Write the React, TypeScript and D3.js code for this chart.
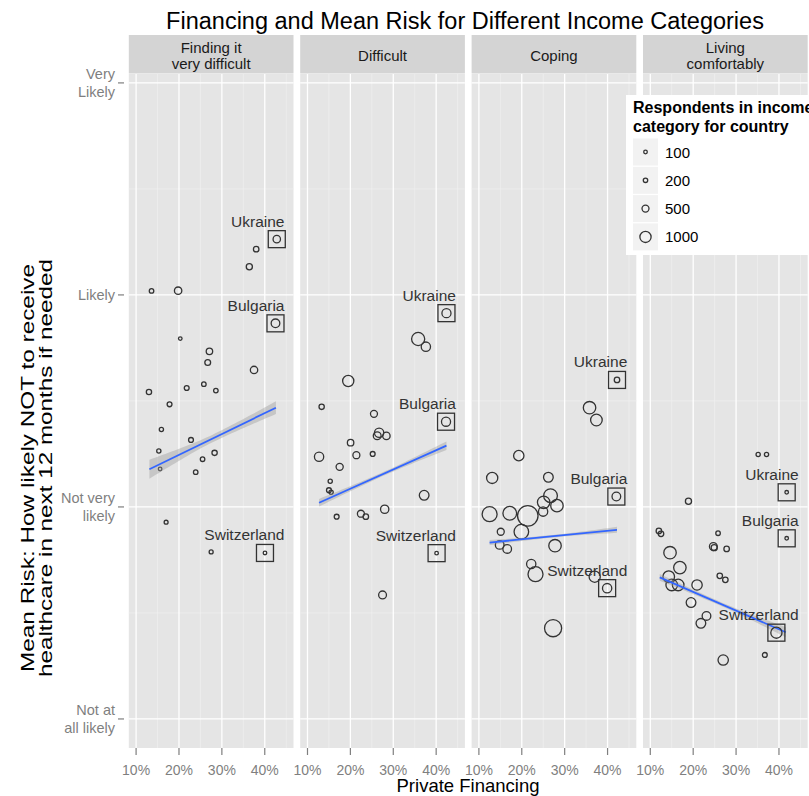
import React from 'react';
import * as d3 from 'd3';

// facet titles, axis ticks and legend breaks
const panelTitles = ['Finding it\nvery difficult', 'Difficult', 'Coping', 'Living\ncomfortably'];
const riskTicks = [1, 2, 3, 4];
const riskLabels = ['Not at\nall likely', 'Not very\nlikely', 'Likely', 'Very\nLikely'];
const riskMinor = [1.5, 2.5, 3.5];
const financeTicks = [10, 20, 30, 40];
const financeMinor = [15, 25, 35, 45];
const legendSizes = [100, 200, 500, 1000];

// [private financing %, mean risk (1 = not at all likely .. 4 = very likely), respondents]
type Pt = [number, number, number];

const findingVeryDifficult: Pt[] = [
  [38.0, 3.216, 325], [36.4, 3.133, 400], [13.6, 3.019, 210], [19.8, 3.02, 550],
  [20.3, 2.794, 100], [27.1, 2.734, 440], [26.7, 2.681, 360], [37.5, 2.646, 550],
  [13.0, 2.542, 300], [21.8, 2.561, 250], [25.8, 2.579, 210], [28.6, 2.549, 210],
  [17.8, 2.484, 250], [15.9, 2.365, 175], [22.8, 2.316, 250], [15.3, 2.264, 175],
  [28.3, 2.255, 300], [25.5, 2.225, 210], [15.6, 2.179, 100], [23.9, 2.164, 210],
  [17.0, 1.928, 140], [27.5, 1.788, 150],
];

const difficult: Pt[] = [
  [35.8, 2.792, 1225], [37.6, 2.756, 775], [19.5, 2.594, 1000], [13.3, 2.472, 300],
  [25.5, 2.439, 500], [26.7, 2.35, 775], [26.25, 2.336, 600], [28.4, 2.335, 550],
  [20.05, 2.303, 440], [12.7, 2.237, 775], [21.4, 2.244, 500], [25.2, 2.25, 250],
  [17.5, 2.189, 520], [15.3, 2.121, 175], [15.0, 2.079, 250], [15.5, 2.069, 175],
  [37.2, 2.055, 820], [28.0, 1.989, 660], [16.8, 1.954, 250], [22.45, 1.968, 500],
  [23.6, 1.954, 325], [27.5, 1.585, 600],
];

const coping: Pt[] = [
  [35.8, 2.468, 1150], [37.4, 2.41, 1050], [19.3, 2.242, 900], [13.1, 2.137, 1000],
  [26.2, 2.14, 820], [26.7, 2.053, 1300], [25.1, 2.022, 1150], [28.2, 2.006, 1150],
  [12.5, 1.966, 1450], [17.2, 1.97, 1300], [21.4, 1.958, 2100], [24.97, 1.978, 775],
  [19.9, 1.883, 1400], [15.1, 1.883, 500], [14.85, 1.821, 700], [16.6, 1.802, 700],
  [27.75, 1.817, 1150], [22.2, 1.731, 775], [23.2, 1.683, 1450], [37.0, 1.671, 1000],
  [27.3, 1.428, 1700],
];

const livingComfortably: Pt[] = [
  [35.15, 2.247, 175], [37.1, 2.247, 175], [18.9, 2.027, 400], [12.0, 1.887, 325],
  [12.5, 1.873, 325], [25.8, 1.876, 210], [24.7, 1.813, 600], [24.9, 1.808, 400],
  [27.8, 1.802, 325], [14.6, 1.784, 1150], [16.9, 1.714, 1150], [26.2, 1.675, 325],
  [27.5, 1.656, 325], [14.3, 1.671, 1050], [15.0, 1.632, 1050], [16.5, 1.632, 1050],
  [20.9, 1.632, 900], [19.5, 1.549, 820], [23.1, 1.486, 700], [21.8, 1.451, 820],
  [36.7, 1.302, 250], [27.0, 1.278, 900],
];

// highlighted countries, one row per panel: Ukraine, Bulgaria, Switzerland
const countryNames = ['Ukraine', 'Bulgaria', 'Switzerland'];
const countryPoints: Pt[][] = [
  [[42.8, 3.263, 550], [42.5, 2.866, 700], [40.05, 1.783, 100]],
  [[42.4, 2.914, 750], [42.3, 2.402, 750], [40.1, 1.782, 100]],
  [[42.2, 2.599, 325], [42.05, 2.049, 700], [39.9, 1.617, 775]],
  [[41.8, 2.069, 100], [41.8, 1.852, 100], [39.4, 1.407, 1000]],
];

// linear fit per panel: x0, y0, x1, y1 ; band half widths at left, middle, right
const fitLines = [
  [13.1, 2.178, 42.6, 2.468],
  [12.7, 2.02, 42.4, 2.289],
  [12.5, 1.832, 42.2, 1.892],
  [12.2, 1.668, 41.6, 1.409],
];
const fitBands = [
  [0.045, 0.018, 0.03],
  [0.018, 0.009, 0.02],
  [0.012, 0.006, 0.014],
  [0.016, 0.009, 0.024],
];

const panelData = [findingVeryDifficult, difficult, coping, livingComfortably];

const W = 809;
const H = 796;
const plotLeft = 128.8;
const panelW = 164.7;
const panelGap = 6.7;
const stripTop = 35;
const panelTop = 74;
const panelBottom = 748;
const font = '"Liberation Sans", Arial, Helvetica, sans-serif';

const App: React.FC = () => {
  const y = d3.scaleLinear().domain([0.863, 4.042]).range([panelBottom, panelTop]);
  const r = d3.scaleLinear().domain([100, 1000]).range([1.8, 5.6]);
  const panelX = (i: number) => {
    const left = plotLeft + i * (panelW + panelGap);
    return d3.scaleLinear().domain([8.3, 46.7]).range([left, left + panelW]);
  };
  const labelEnd = 44.6;

  return (
    <svg width={W} height={H} style={{ position: 'absolute', left: 0, top: 0, fontFamily: font }}>
      <rect width={W} height={H} fill="#fff" />
      <text x={465} y={29} textAnchor="middle" fontSize={23.5} fill="#000">
        Financing and Mean Risk for Different Income Categories
      </text>

      {panelTitles.map((title, i) => {
        const x = panelX(i);
        const [x0, x1] = x.range();
        const pts = panelData[i];
        const [fx0, fy0, fx1, fy1] = fitLines[i];
        const [bl, bm, br] = fitBands[i];
        const xm = (fx0 + fx1) / 2;
        const fitY = (v: number) => fy0 + ((v - fx0) / (fx1 - fx0)) * (fy1 - fy0);
        const half = (v: number) => {
          const edge = v < xm ? bl : br;
          const t = v < xm ? (xm - v) / (xm - fx0) : (v - xm) / (fx1 - xm);
          return Math.sqrt(bm * bm + (edge * edge - bm * bm) * t * t);
        };
        const xs = d3.range(0, 41).map(k => fx0 + ((fx1 - fx0) * k) / 40);
        const band = d3.area<number>()
          .x(v => x(v))
          .y0(v => y(fitY(v) - half(v)))
          .y1(v => y(fitY(v) + half(v)));
        const lines = title.split('\n');
        return (
          <g key={title}>
            <rect x={x0} y={stripTop} width={x1 - x0} height={panelTop - stripTop - 0.5} fill="#d4d4d4" />
            {lines.map((ln, k) => (
              <text key={k} x={(x0 + x1) / 2} y={lines.length === 1 ? 60.5 : 53 + k * 15.5}
                textAnchor="middle" fontSize={15} fill="#1a1a1a">{ln}</text>
            ))}
            <rect x={x0} y={panelTop} width={x1 - x0} height={panelBottom - panelTop} fill="#e5e5e5" />
            {riskMinor.map(v => (
              <line key={'ym' + v} x1={x0} x2={x1} y1={y(v)} y2={y(v)} stroke="#f2f2f2" strokeWidth={0.6} />
            ))}
            {financeMinor.map(v => (
              <line key={'xm' + v} x1={x(v)} x2={x(v)} y1={panelTop} y2={panelBottom} stroke="#f2f2f2" strokeWidth={0.6} />
            ))}
            {riskTicks.map(v => (
              <line key={'y' + v} x1={x0} x2={x1} y1={y(v)} y2={y(v)} stroke="#fff" strokeWidth={1.3} />
            ))}
            {financeTicks.map(v => (
              <line key={'x' + v} x1={x(v)} x2={x(v)} y1={panelTop} y2={panelBottom} stroke="#fff" strokeWidth={1.3} />
            ))}
            {pts.map((d, k) => (
              <circle key={k} cx={x(d[0])} cy={y(d[1])} r={r(d[2])} fill="none" stroke="#333" strokeWidth={1.3} />
            ))}
            <path d={band(xs) || ''} fill="#999" fillOpacity={0.4} />
            <line x1={x(fx0)} y1={y(fy0)} x2={x(fx1)} y2={y(fy1)} stroke="#3366ff" strokeWidth={1.8} />
            {countryPoints[i].map((d, k) => (
              <g key={'c' + k}>
                <circle cx={x(d[0])} cy={y(d[1])} r={r(d[2])} fill="none" stroke="#333" strokeWidth={1.3} />
                <rect x={x(d[0]) - 8.5} y={y(d[1]) - 8.5} width={17} height={17} fill="none" stroke="#333" strokeWidth={1.3} />
                <text x={x(labelEnd)} y={y(d[1]) - 12.5} textAnchor="end" fontSize={15.5} fill="#333">
                  {countryNames[k]}
                </text>
              </g>
            ))}
            {financeTicks.map(v => (
              <g key={'xt' + v}>
                <line x1={x(v)} x2={x(v)} y1={panelBottom} y2={panelBottom + 7} stroke="#7f7f7f" strokeWidth={1.2} />
                <text x={x(v)} y={775} textAnchor="middle" fontSize={14} fill="#7f7f7f"
                  textLength={28} lengthAdjust="spacingAndGlyphs">{v}%</text>
              </g>
            ))}
          </g>
        );
      })}

      {riskTicks.map((v, i) => {
        const lines = riskLabels[i].split('\n');
        return (
          <g key={'yt' + v}>
            <line x1={118} x2={124} y1={y(v)} y2={y(v)} stroke="#7f7f7f" strokeWidth={1.2} />
            {lines.map((ln, k) => (
              <text key={k} x={115} y={y(v) + 5 + (k - (lines.length - 1) / 2) * 18}
                textAnchor="end" fontSize={14.5} fill="#7f7f7f">{ln}</text>
            ))}
          </g>
        );
      })}

      <text x={468} y={792} textAnchor="middle" fontSize={18.5} fill="#000">Private Financing</text>
      <g transform="translate(0, 468) rotate(-90)">
        <text x={0} y={34} textAnchor="middle" fontSize={18} fill="#000"
          textLength={408} lengthAdjust="spacingAndGlyphs">Mean Risk: How likely NOT to receive</text>
        <text x={0} y={52} textAnchor="middle" fontSize={18} fill="#000"
          textLength={418} lengthAdjust="spacingAndGlyphs">healthcare in next 12 months if needed</text>
      </g>

      <g>
        <rect x={626} y={95} width={190} height={160} fill="#fff" />
        <text x={633} y={113} fontSize={16} fontWeight="bold" fill="#000">Respondents in income</text>
        <text x={633} y={132} fontSize={16} fontWeight="bold" fill="#000">category for country</text>
        {legendSizes.map((n, i) => {
          const cy = 152 + i * 28.3;
          return (
            <g key={n}>
              <rect x={633} y={cy - 13.5} width={25} height={27} fill="#f2f2f2" />
              <circle cx={645.5} cy={cy} r={r(n)} fill="none" stroke="#333" strokeWidth={1.3} />
              <text x={665} y={cy + 5.5} fontSize={15} fill="#000">{n}</text>
            </g>
          );
        })}
      </g>
    </svg>
  );
};

export default App;
